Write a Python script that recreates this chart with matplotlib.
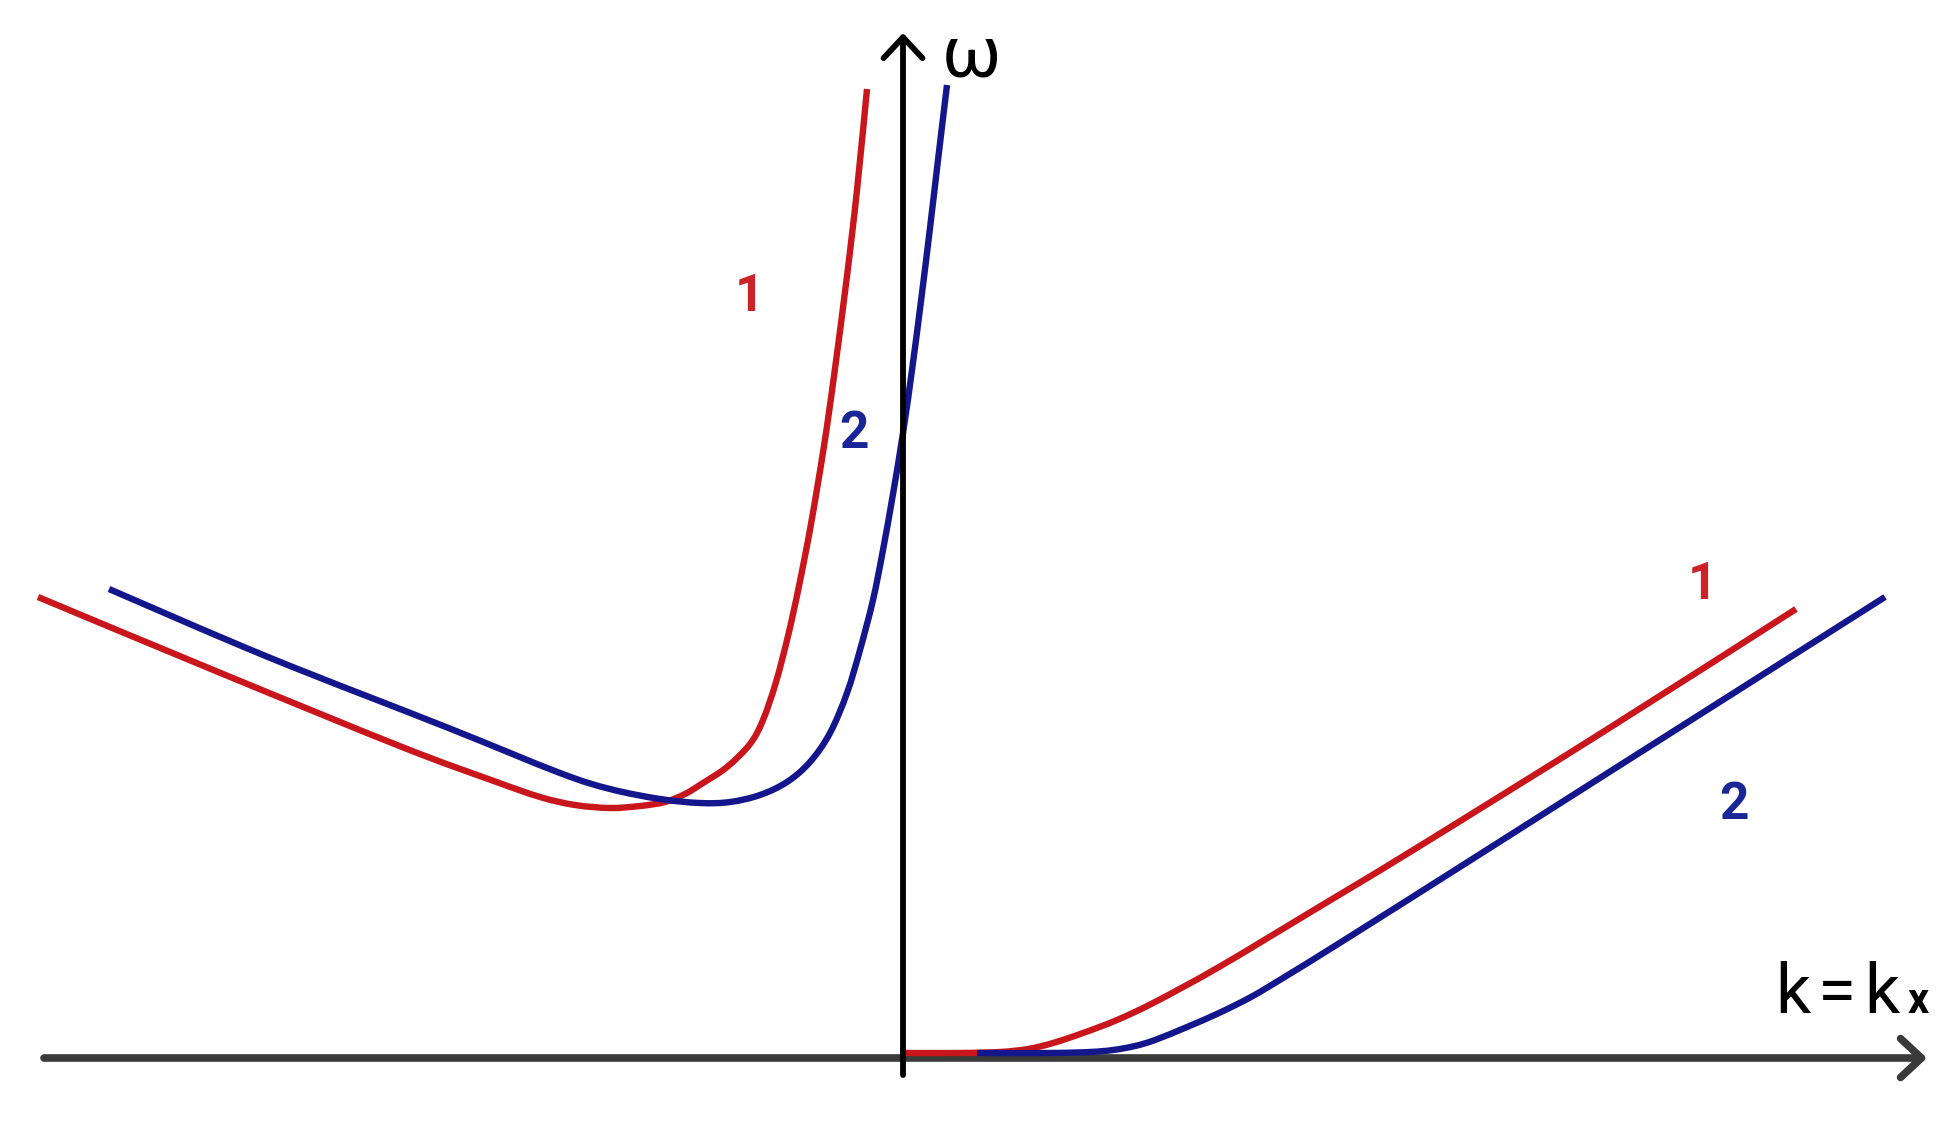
import matplotlib
matplotlib.use("Agg")
import matplotlib.pyplot as plt
import numpy as np
from matplotlib.path import Path
from matplotlib.patches import PathPatch

# ---- data (k, omega) ----
red_left_k = [-8.65, -6.80, -5.01, -4.12, -3.63, -3.28, -2.93, -2.63, -2.38, -2.18,
              -2.00, -1.76, -1.53, -1.40, -1.27, -1.15, -1.04, -0.92, -0.79, -0.69, -0.56, -0.46, -0.36]
red_left_w = [4.61, 3.84, 3.11, 2.78, 2.61, 2.53, 2.50, 2.52, 2.56, 2.64,
              2.75, 2.91, 3.14, 3.38, 3.76, 4.22, 4.72, 5.34, 6.12, 6.82, 7.82, 8.68, 9.69]

blue_left_k = [-7.94, -6.35, -4.57, -3.43, -2.93, -2.43, -2.03, -1.73, -1.43, -1.16, -0.93, -0.73,
               -0.56, -0.43, -0.30, -0.20, -0.10, 0.00, 0.09, 0.18, 0.27, 0.35, 0.44]
blue_left_w = [4.69, 4.01, 3.31, 2.85, 2.69, 2.59, 2.55, 2.56, 2.63, 2.76, 2.96, 3.25,
               3.65, 4.08, 4.58, 5.08, 5.64, 6.25, 6.88, 7.57, 8.30, 8.98, 9.73]

red_right_k = [0.02, 0.57, 0.97, 1.25, 1.50, 1.80, 2.14, 2.52, 3.16, 4.11, 5.07, 7.00, 8.93]
red_right_w = [0.05, 0.05, 0.06, 0.09, 0.15, 0.25, 0.38, 0.56, 0.91, 1.48, 2.06, 3.26, 4.49]

blue_right_k = [0.74, 1.47, 1.87, 2.10, 2.32, 2.52, 2.84, 3.16, 3.48, 3.80, 4.43, 5.71, 7.00, 9.82]
blue_right_w = [0.05, 0.05, 0.06, 0.08, 0.12, 0.18, 0.31, 0.45, 0.61, 0.80, 1.19, 2.00, 2.82, 4.61]

curve_labels = ["1", "2", "1", "2"]
axis_labels = ["\u03c9", "k", "=", "k", "x"]

RED = "#c8161c"
BLUE = "#14168c"

fig = plt.figure(figsize=(19.6, 11.28), dpi=100)
ax = fig.add_axes([0, 0, 1, 1])
ax.set_xlim(-9.03, 10.57)
ax.set_ylim(-0.70, 10.58)
ax.axis("off")


def smooth_curve(ax, xs, ys, color, lw, z):
    """Draw a smooth (Catmull-Rom style Bezier) line through the given points."""
    p = np.column_stack([xs, ys]).astype(float)
    n = len(p)
    verts = [tuple(p[0])]
    codes = [Path.MOVETO]
    for i in range(n - 1):
        p0 = p[i - 1] if i > 0 else p[i]
        p1 = p[i]
        p2 = p[i + 1]
        p3 = p[i + 2] if i + 2 < n else p[i + 1]
        c1 = p1 + (p2 - p0) / 6.0
        c2 = p2 - (p3 - p1) / 6.0
        verts += [tuple(c1), tuple(c2), tuple(p2)]
        codes += [Path.CURVE4] * 3
    patch = PathPatch(Path(verts, codes), facecolor="none", edgecolor=color, lw=lw,
                      capstyle="butt", joinstyle="round", zorder=z, transform=ax.transData)
    ax.add_patch(patch)


# horizontal axis (below curves)
ax.annotate("", xy=(10.24, 0), xytext=(-8.59, 0),
            arrowprops=dict(arrowstyle="->,head_length=15,head_width=14", lw=5.5,
                            color="#3a3a3a", shrinkA=0, shrinkB=0, mutation_scale=1),
            zorder=1)

lw = 4.6
smooth_curve(ax, red_right_k, red_right_w, RED, lw, 2)
smooth_curve(ax, red_left_k, red_left_w, RED, lw, 2)
smooth_curve(ax, blue_right_k, blue_right_w, BLUE, lw, 3)
smooth_curve(ax, blue_left_k, blue_left_w, BLUE, lw, 3)

# vertical axis (on top)
ax.annotate("", xy=(0, 10.25), xytext=(0, -0.17),
            arrowprops=dict(arrowstyle="->,head_length=15,head_width=14", lw=4.2,
                            color="black", shrinkA=0, shrinkB=0, mutation_scale=1),
            zorder=4)

fam = ["Roboto", "DejaVu Sans"]
lab_kw = dict(fontsize=37, family=fam, fontweight="bold", ha="center", va="center")
ax.text(-1.53, 7.61, curve_labels[0], color="#cc2228", **lab_kw)
ax.text(-0.49, 6.24, curve_labels[1], color="#1a2596", **lab_kw)
ax.text(7.99, 4.73, curve_labels[2], color="#cc2228", **lab_kw)
ax.text(8.31, 2.53, curve_labels[3], color="#1a2596", **lab_kw)

ax.text(0.68, 10.01, axis_labels[0], color="black", fontsize=52, family=fam,
        fontweight="normal", ha="center", va="center")
kx_kw = dict(color="black", fontsize=50, family=fam, fontweight="normal", va="baseline")
ax.text(8.72, 0.45, axis_labels[1], ha="left", **kx_kw)
ax.text(9.15, 0.45, axis_labels[2], ha="left", **kx_kw)
ax.text(9.61, 0.45, axis_labels[3], ha="left", **kx_kw)
ax.text(10.05, 0.45, axis_labels[4], color="black", fontsize=30, family=fam, fontweight="bold",
        ha="left", va="baseline")

fig.savefig("out.png", dpi=100, facecolor="white")
